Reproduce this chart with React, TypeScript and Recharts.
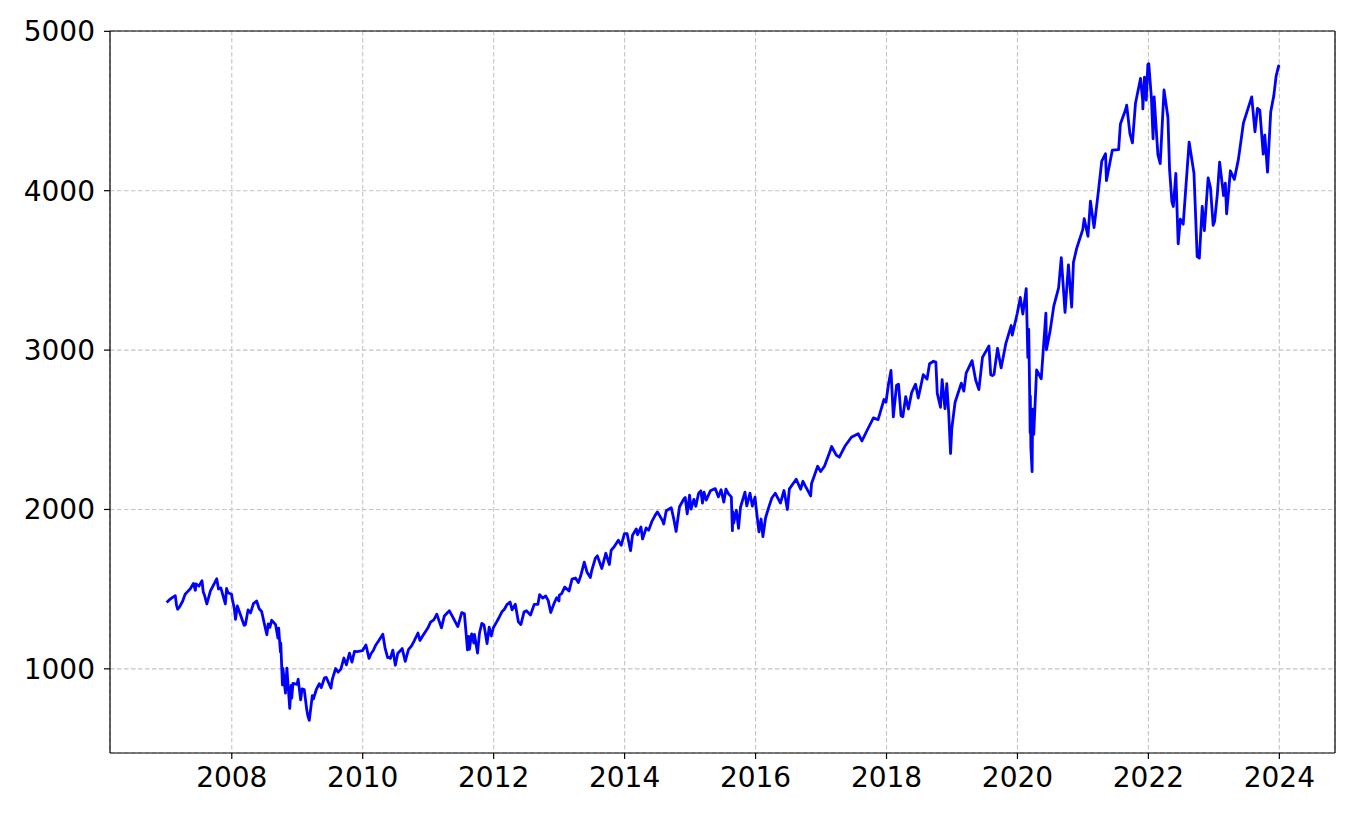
import { LineChart, Line, XAxis, YAxis, CartesianGrid, ReferenceLine } from 'recharts';

// S&P 500 closes, roughly twice a month plus the sharp turns
const DATES: string[] = [
  // 2007
  '2007-01-03', '2007-01-16', '2007-02-01', '2007-02-20', '2007-02-27', '2007-03-05', '2007-03-15', '2007-04-02',
  '2007-04-16', '2007-05-01', '2007-05-15', '2007-06-01', '2007-06-12', '2007-06-15', '2007-07-02', '2007-07-19',
  '2007-07-26', '2007-08-01', '2007-08-15', '2007-08-16', '2007-09-04', '2007-09-18', '2007-10-01', '2007-10-09',
  '2007-10-19', '2007-11-01', '2007-11-26', '2007-12-03', '2007-12-11', '2007-12-31',
  // 2008
  '2008-01-02', '2008-01-15', '2008-01-22', '2008-02-01', '2008-02-15', '2008-03-10', '2008-03-17', '2008-04-01',
  '2008-04-15', '2008-05-01', '2008-05-19', '2008-06-02', '2008-06-16', '2008-07-01', '2008-07-15', '2008-07-23',
  '2008-08-01', '2008-08-11', '2008-09-02', '2008-09-15', '2008-09-19', '2008-09-29', '2008-10-01', '2008-10-10',
  '2008-10-13', '2008-10-27', '2008-11-04', '2008-11-20', '2008-11-28', '2008-12-01', '2008-12-08', '2008-12-31',
  // 2009
  '2009-01-06', '2009-01-20', '2009-01-28', '2009-02-09', '2009-02-23', '2009-03-02', '2009-03-09', '2009-03-26',
  '2009-04-01', '2009-04-17', '2009-05-04', '2009-05-15', '2009-06-02', '2009-06-12', '2009-07-08', '2009-07-15',
  '2009-08-03', '2009-08-17', '2009-09-01', '2009-09-18', '2009-10-02', '2009-10-19', '2009-11-02', '2009-11-16',
  '2009-12-01', '2009-12-31',
  // 2010
  '2010-01-19', '2010-02-05', '2010-02-16', '2010-03-01', '2010-03-15', '2010-04-01', '2010-04-23', '2010-05-06',
  '2010-05-20', '2010-05-25', '2010-06-04', '2010-06-18', '2010-07-02', '2010-07-15', '2010-08-09', '2010-08-26',
  '2010-09-13', '2010-10-01', '2010-10-15', '2010-11-05', '2010-11-16', '2010-12-01', '2010-12-31',
  // 2011
  '2011-01-14', '2011-02-01', '2011-02-18', '2011-03-16', '2011-04-01', '2011-04-29', '2011-05-16', '2011-06-15',
  '2011-07-07', '2011-07-22', '2011-08-08', '2011-08-15', '2011-08-19', '2011-08-31', '2011-09-12', '2011-09-16',
  '2011-10-03', '2011-10-14', '2011-10-27', '2011-11-08', '2011-11-25', '2011-12-07', '2011-12-19', '2011-12-30',
  // 2012
  '2012-01-17', '2012-02-01', '2012-02-16', '2012-03-01', '2012-03-15', '2012-04-02', '2012-04-13', '2012-05-01',
  '2012-05-18', '2012-06-01', '2012-06-19', '2012-07-02', '2012-07-25', '2012-08-15', '2012-09-04', '2012-09-14',
  '2012-10-01', '2012-10-18', '2012-11-01', '2012-11-15', '2012-12-03', '2012-12-18', '2012-12-31',
  // 2013
  '2013-01-02', '2013-01-15', '2013-02-01', '2013-02-25', '2013-03-14', '2013-04-02', '2013-04-18', '2013-05-01',
  '2013-05-21', '2013-06-05', '2013-06-24', '2013-07-01', '2013-07-22', '2013-08-02', '2013-08-27', '2013-09-18',
  '2013-10-08', '2013-10-18', '2013-11-01', '2013-11-27', '2013-12-13', '2013-12-31',
  // 2014
  '2014-01-15', '2014-02-03', '2014-02-14', '2014-03-07', '2014-03-14', '2014-04-02', '2014-04-11', '2014-05-01',
  '2014-05-15', '2014-06-02', '2014-06-20', '2014-07-03', '2014-07-31', '2014-08-07', '2014-08-21', '2014-09-18',
  '2014-10-01', '2014-10-15', '2014-11-03', '2014-11-28', '2014-12-05', '2014-12-16', '2014-12-29',
  // 2015
  '2015-01-06', '2015-01-22', '2015-02-02', '2015-02-17', '2015-03-02', '2015-03-11', '2015-03-20', '2015-04-01',
  '2015-04-24', '2015-05-21', '2015-06-08', '2015-06-23', '2015-07-08', '2015-07-20', '2015-08-03', '2015-08-19',
  '2015-08-24', '2015-08-25', '2015-08-27', '2015-09-01', '2015-09-16', '2015-09-28', '2015-10-09', '2015-11-03',
  '2015-11-13', '2015-12-01', '2015-12-14', '2015-12-29',
  // 2016
  '2016-01-04', '2016-01-20', '2016-02-01', '2016-02-11', '2016-02-26', '2016-03-15', '2016-04-01', '2016-04-20',
  '2016-05-19', '2016-06-08', '2016-06-27', '2016-07-08', '2016-08-15', '2016-09-09', '2016-09-22', '2016-10-04',
  '2016-11-04', '2016-11-09', '2016-11-25', '2016-12-13', '2016-12-30',
  // 2017
  '2017-01-20', '2017-02-15', '2017-03-01', '2017-03-27', '2017-04-13', '2017-05-16', '2017-06-19', '2017-07-27',
  '2017-08-17', '2017-09-20', '2017-10-20', '2017-11-15', '2017-12-18', '2017-12-29',
  // 2018
  '2018-01-12', '2018-01-26', '2018-02-08', '2018-02-26', '2018-03-09', '2018-03-23', '2018-04-02', '2018-04-18',
  '2018-05-03', '2018-05-21', '2018-06-12', '2018-06-27', '2018-07-25', '2018-08-15', '2018-08-29', '2018-09-20',
  '2018-10-03', '2018-10-11', '2018-10-29', '2018-11-07', '2018-11-23', '2018-12-03', '2018-12-14', '2018-12-24',
  '2018-12-31',
  // 2019
  '2019-01-18', '2019-02-22', '2019-03-08', '2019-03-21', '2019-04-23', '2019-05-13', '2019-05-31', '2019-06-20',
  '2019-07-26', '2019-08-05', '2019-08-14', '2019-08-23', '2019-09-12', '2019-10-02', '2019-10-28', '2019-11-27',
  '2019-12-03', '2019-12-31',
  // 2020
  '2020-01-17', '2020-01-31', '2020-02-19', '2020-02-28', '2020-03-04', '2020-03-09', '2020-03-12', '2020-03-13',
  '2020-03-16', '2020-03-23', '2020-03-26', '2020-04-01', '2020-04-17', '2020-05-13', '2020-06-08', '2020-06-11',
  '2020-07-01', '2020-07-22', '2020-08-18', '2020-09-02', '2020-09-23', '2020-10-12', '2020-10-30', '2020-11-09',
  '2020-11-27', '2020-12-31',
  // 2021
  '2021-01-08', '2021-01-29', '2021-02-12', '2021-03-04', '2021-03-26', '2021-04-16', '2021-05-07', '2021-05-12',
  '2021-06-14', '2021-07-19', '2021-07-29', '2021-08-27', '2021-09-02', '2021-09-20', '2021-10-04', '2021-10-21',
  '2021-11-18', '2021-11-30', '2021-12-01', '2021-12-10', '2021-12-20', '2021-12-29',
  // 2022
  '2022-01-03', '2022-01-18', '2022-01-27', '2022-02-02', '2022-02-23', '2022-03-08', '2022-03-29', '2022-04-20',
  '2022-04-29', '2022-05-12', '2022-05-20', '2022-06-03', '2022-06-16', '2022-06-28', '2022-07-14', '2022-08-16',
  '2022-09-12', '2022-09-30', '2022-10-12', '2022-10-28', '2022-11-09', '2022-11-30', '2022-12-13', '2022-12-28',
  // 2023
  '2023-01-05', '2023-01-20', '2023-02-02', '2023-02-24', '2023-03-06', '2023-03-13', '2023-04-03', '2023-04-25',
  '2023-05-18', '2023-06-15', '2023-07-31', '2023-08-18', '2023-09-01', '2023-09-14', '2023-10-03', '2023-10-12',
  '2023-10-27', '2023-11-14', '2023-12-01', '2023-12-14', '2023-12-28', '2023-12-29',
];

const CLOSES: number[] = [
  // 2007
  1416, 1431, 1445, 1459, 1399, 1374, 1387, 1424, 1468, 1486, 1503, 1536, 1493, 1533, 1519, 1553,
  1482, 1465, 1407, 1411, 1489, 1519, 1547, 1565, 1501, 1508, 1407, 1504, 1477, 1468,
  // 2008
  1447, 1380, 1310, 1395, 1350, 1273, 1277, 1370, 1351, 1409, 1426, 1377, 1360, 1284, 1214, 1282,
  1260, 1305, 1277, 1193, 1255, 1106, 1161, 899, 1003, 848, 1005, 752, 896, 816, 909, 903,
  // 2009
  935, 805, 874, 870, 743, 700, 677, 832, 811, 869, 907, 882, 944, 946, 879, 932,
  1002, 979, 998, 1068, 1025, 1098, 1042, 1110, 1108, 1115,
  // 2010
  1150, 1066, 1095, 1115, 1150, 1178, 1217, 1128, 1071, 1074, 1065, 1117, 1023, 1096, 1127, 1047,
  1121, 1146, 1176, 1225, 1178, 1206, 1258,
  // 2011
  1293, 1307, 1343, 1257, 1332, 1364, 1329, 1265, 1353, 1345, 1119, 1204, 1123, 1219, 1162, 1216,
  1099, 1225, 1285, 1276, 1159, 1261, 1206, 1258,
  // 2012
  1293, 1324, 1358, 1374, 1403, 1419, 1370, 1406, 1295, 1278, 1357, 1365, 1338, 1405, 1404, 1466,
  1444, 1457, 1428, 1353, 1409, 1446, 1426,
  // 2013
  1462, 1472, 1513, 1488, 1563, 1570, 1541, 1582, 1669, 1608, 1573, 1614, 1695, 1709, 1630, 1725,
  1655, 1744, 1762, 1807, 1775, 1848,
  // 2014
  1848, 1741, 1838, 1878, 1841, 1890, 1815, 1884, 1870, 1925, 1963, 1985, 1931, 1909, 1992, 2011,
  1946, 1862, 2017, 2067, 2075, 1972, 2090,
  // 2015
  2002, 2063, 2020, 2100, 2117, 2040, 2108, 2059, 2117, 2131, 2079, 2124, 2046, 2128, 2098, 2079,
  1893, 1867, 1987, 1914, 1995, 1882, 2014, 2109, 2023, 2102, 2021, 2078,
  // 2016
  2012, 1859, 1940, 1829, 1948, 2015, 2072, 2102, 2040, 2119, 2000, 2129, 2190, 2127, 2177, 2150,
  2085, 2163, 2213, 2271, 2238,
  // 2017
  2271, 2349, 2395, 2341, 2328, 2400, 2453, 2475, 2430, 2508, 2575, 2564, 2690, 2673,
  // 2018
  2786, 2872, 2581, 2779, 2786, 2588, 2582, 2708, 2630, 2733, 2786, 2699, 2846, 2818, 2914, 2930,
  2925, 2728, 2641, 2814, 2633, 2790, 2600, 2351, 2507,
  // 2019
  2671, 2793, 2743, 2855, 2934, 2812, 2752, 2954, 3026, 2845, 2840, 2847, 3010, 2888, 3040, 3154,
  3094, 3231,
  // 2020
  3330, 3226, 3386, 2954, 3130, 2747, 2481, 2711, 2386, 2237, 2630, 2471, 2875, 2820, 3232, 3002,
  3116, 3276, 3390, 3580, 3237, 3534, 3270, 3550, 3638, 3756,
  // 2021
  3825, 3714, 3934, 3768, 3975, 4185, 4232, 4063, 4255, 4258, 4419, 4509, 4537, 4358, 4300, 4549,
  4704, 4567, 4513, 4712, 4568, 4793,
  // 2022
  4797, 4577, 4326, 4589, 4225, 4170, 4632, 4459, 4132, 3930, 3901, 4108, 3667, 3821, 3790, 4305,
  4110, 3586, 3577, 3901, 3749, 4080, 4019, 3783,
  // 2023
  3808, 3973, 4179, 3970, 4048, 3855, 4125, 4071, 4198, 4426, 4589, 4370, 4516, 4505, 4229, 4349,
  4117, 4496, 4595, 4719, 4783, 4770,
];

const X_TICKS = [2008, 2010, 2012, 2014, 2016, 2018, 2020, 2022, 2024];
const Y_TICKS = [1000, 2000, 3000, 4000, 5000];

// date string -> fractional year, so the x axis can be numeric like matplotlib's date axis
function toYear(d: string) {
  const [y, m, day] = d.split('-').map(Number);
  const start = Date.UTC(y, 0, 1);
  const end = Date.UTC(y + 1, 0, 1);
  return y + (Date.UTC(y, m - 1, day) - start) / (end - start);
}

const data = DATES.map((d, i) => ({ t: toYear(d), close: CLOSES[i] }));

const X_MIN = 2006.14;
const X_MAX = 2024.85;
const Y_MIN = 472;
const Y_MAX = 5002;

const tickStyle = { fontFamily: 'DejaVu Sans', fontSize: 28, fill: '#000' };

export default function App() {
  return (
    <div style={{ position: 'absolute', left: 0, top: 0, width: 1356, height: 814, background: '#fff' }}>
      <LineChart width={1356} height={814} data={data} margin={{ top: 31, right: 21, bottom: 0, left: 0 }}>
        <CartesianGrid stroke="#c4c4c4" strokeDasharray="4.5 2.5" strokeWidth={1.1} />
        <XAxis
          type="number"
          dataKey="t"
          domain={[X_MIN, X_MAX]}
          ticks={X_TICKS}
          allowDataOverflow
          height={61}
          tick={tickStyle}
          tickSize={6}
          tickMargin={8}
          axisLine={{ stroke: '#000', strokeWidth: 1.2 }}
          tickLine={{ stroke: '#000', strokeWidth: 1.2 }}
        />
        <YAxis
          type="number"
          domain={[Y_MIN, Y_MAX]}
          ticks={Y_TICKS}
          allowDataOverflow
          width={110}
          tick={tickStyle}
          tickSize={6}
          tickMargin={9}
          axisLine={{ stroke: '#000', strokeWidth: 1.2 }}
          tickLine={{ stroke: '#000', strokeWidth: 1.2 }}
        />
        <ReferenceLine y={Y_MAX} stroke="#000" strokeWidth={1.2} />
        <ReferenceLine x={X_MAX} stroke="#000" strokeWidth={1.2} />
        <Line
          type="linear"
          dataKey="close"
          stroke="#0000ff"
          strokeWidth={2.8}
          strokeLinejoin="round"
          dot={false}
          isAnimationActive={false}
        />
      </LineChart>
    </div>
  );
}
